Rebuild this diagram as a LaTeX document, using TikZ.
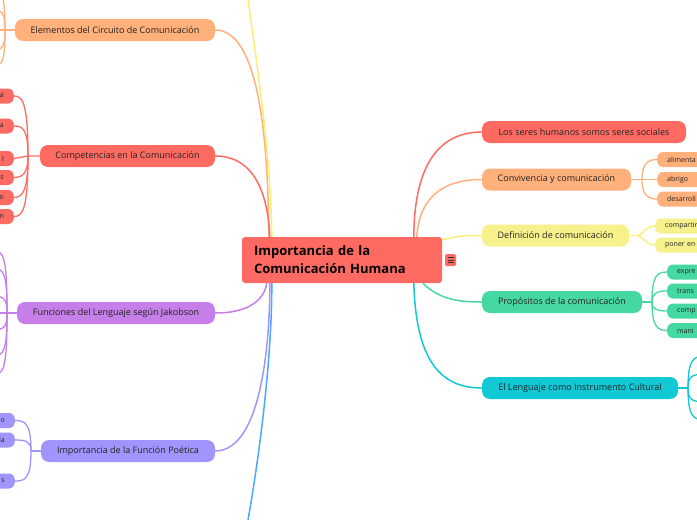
\documentclass[tikz,border=0pt]{standalone}
\usepackage{fontspec}
\setmainfont{Open Sans}
\usetikzlibrary{calc}
\definecolor{cred}{HTML}{FF6B63}
\definecolor{corange}{HTML}{FFB07B}
\definecolor{cyellow}{HTML}{F7F18C}
\definecolor{cyline}{HTML}{F9EF72}
\definecolor{cgreen}{HTML}{45D8A1}
\definecolor{ccyan}{HTML}{10C9D4}
\definecolor{cpurple}{HTML}{C67EE8}
\definecolor{clav}{HTML}{A095FC}
\definecolor{cblue}{HTML}{49A8FF}
\definecolor{txt}{HTML}{222222}
\tikzset{
  mainbox/.style={rounded corners=8pt, minimum height=22pt, inner sep=0pt,
    font=\fontsize{9}{10}\selectfont, text=txt},
  kidR/.style={rounded corners=6pt, minimum height=15pt, anchor=west, text width=60pt,
    align=left, inner xsep=10pt, inner ysep=0pt, font=\fontsize{7}{8}\selectfont, text=txt},
  kidL/.style={rounded corners=6pt, minimum height=15pt, anchor=east, text width=40pt,
    align=right, inner xsep=10pt, inner ysep=0pt, font=\fontsize{7}{8}\selectfont, text=txt},
  centralbox/.style={rounded corners=3pt, minimum width=200pt, minimum height=46pt,
    text width=176pt, inner xsep=12pt, inner ysep=0pt, align=left,
    font=\fontsize{13}{18}\selectfont\bfseries, text=black},
  link/.style={line width=1.3pt},
  biglink/.style={line width=1.5pt}
}
\begin{document}
\begin{tikzpicture}[x=1pt,y=-1pt]
\useasboundingbox (0,0) rectangle (697,520);
% central
\node[centralbox, fill=cred] (C) at (342,260) {Importancia de la\\Comunicación Humana};
\node[rounded corners=1.5pt, fill=cred, minimum width=11pt, minimum height=12pt, inner sep=0pt] (menu) at (450.5,260) {};
\foreach \dy in {-2.5,0,2.5} \draw[line width=0.8pt, black!80] ([xshift=-3pt,yshift=\dy pt]menu.center) -- ([xshift=3pt,yshift=\dy pt]menu.center);

% right main nodes
\node[mainbox, fill=cred, minimum width=204pt] (R1) at (584,132) {Los seres humanos somos seres sociales};
\node[mainbox, fill=corange, minimum width=149pt] (R2) at (556.5,179.5) {Convivencia y comunicación};
\node[mainbox, fill=cyellow, minimum width=147pt] (R3) at (555.5,235.5) {Definición de comunicación};
\node[mainbox, fill=cgreen, minimum width=160pt] (R4) at (562,302) {Propósitos de la comunicación};
\node[mainbox, fill=ccyan, minimum width=196pt] (R5) at (580,388) {El Lenguaje como Instrumento Cultural};

% left main nodes
\node[mainbox, fill=corange, minimum width=200pt] (L1) at (115,30) {Elementos del Circuito de Comunicación};
\node[mainbox, fill=cred, minimum width=175pt] (L2) at (127.5,156) {Competencias en la Comunicación};
\node[mainbox, fill=cpurple, minimum width=198pt] (L3) at (116,313) {Funciones del Lenguaje según Jakobson};
\node[mainbox, fill=clav, minimum width=174pt] (L4) at (128,451) {Importancia de la Función Poética};

% right children
\node[kidR, fill=corange] (a1) at (657,159.5) {alimenta};
\node[kidR, fill=corange] (a2) at (657,179.5) {abrigo};
\node[kidR, fill=corange] (a3) at (657,199) {desarroll};
\node[kidR, fill=cyellow] (b1) at (655,226) {compartir};
\node[kidR, fill=cyellow] (b2) at (655,245) {poner en};
\node[kidR, fill=cgreen] (c1) at (667,272) {expre};
\node[kidR, fill=cgreen] (c2) at (667,291) {trans};
\node[kidR, fill=cgreen] (c3) at (667,311) {comp};
\node[kidR, fill=cgreen] (c4) at (667,330.5) {mani};

% left children
\node[kidL, fill=cred] (d1) at (14,96) {a};
\node[kidL, fill=cred] (d2) at (14,126) {a};
\node[kidL, fill=cred] (d3) at (14,158.5) {l};
\node[kidL, fill=cred] (d4) at (14,177.5) {s};
\node[kidL, fill=cred] (d5) at (14,197.5) {o};
\node[kidL, fill=cred] (d6) at (14,216.5) {n};
\node[kidL, fill=clav] (e1) at (15,420.5) {o};
\node[kidL, fill=clav] (e2) at (15,440) {la};
\node[kidL, fill=clav] (e3) at (15,481) {s};

% junctions and free ends
\coordinate (jR2) at (642,179.5);
\coordinate (jR3) at (637,235.5);
\coordinate (jR4) at (652,302);
\coordinate (jR5) at (688,388);
\coordinate (jL1) at (5,30);
\coordinate (jL2) at (28,156);
\coordinate (jL3) at (7,313);
\coordinate (jL4) at (31,451);
\coordinate (topY) at (248,0);
\coordinate (botB) at (248,520);
\foreach \n/\y in {f1/356,f2/374,f3/402,f4/420} \coordinate (\n) at (705,\y);
\foreach \n/\y in {g1/-8,g2/10,g3/50,g4/66} \coordinate (\n) at (-8,\y);
\foreach \n/\y in {h1/250,h2/268,h3/296,h4/330,h5/356,h6/375} \coordinate (\n) at (-8,\y);

% central connectors (right)
\draw[biglink, cred] ([xshift=172pt]C.north west) .. controls (414,180) and (430,132) .. (R1.west);
\draw[biglink, corange] ([xshift=175pt]C.north west) .. controls (419,200) and (440,179.5) .. (R2.west);
\draw[biglink, cyline] ([yshift=-3pt]C.north east) .. controls (462,235.5) .. (R3.west);
\draw[biglink, cgreen] ([xshift=181pt]C.south west) .. controls (440,300) and (460,302) .. (R4.west);
\draw[biglink, ccyan] ([xshift=172pt]C.south west) .. controls (416,360) and (440,388) .. (R5.west);
% central connectors (left)
\draw[biglink, corange] (L1.east) .. controls (255,30) and (268,120) .. ([xshift=27pt]C.north west);
\draw[biglink, cred] (L2.east) .. controls (255,156) and (268,195) .. ([xshift=28pt]C.north west);
\draw[biglink, cyline] (topY) .. controls (258,70) and (271,160) .. ([xshift=30pt]C.north west);
\draw[biglink, cpurple] (L3.east) .. controls (255,313) and (265,295) .. ([xshift=25pt]C.south west);
\draw[biglink, clav] (L4.east) .. controls (262,451) and (270,340) .. ([xshift=28pt]C.south west);
\draw[biglink, cblue] (botB) .. controls (262,440) and (272,350) .. ([xshift=30pt]C.south west);

% right sub connectors
\draw[link, corange] (R2.east) -- (jR2) -- (a2.west);
\draw[link, corange] (jR2) .. controls +(0,-16) and +(-9,0) .. (a1.west);
\draw[link, corange] (jR2) .. controls +(0,16) and +(-9,0) .. (a3.west);
\draw[link, cyline] (R3.east) -- (jR3);
\draw[link, cyline] (jR3) .. controls +(6,0) and +(-10,0) .. (b1.west);
\draw[link, cyline] (jR3) .. controls +(6,0) and +(-10,0) .. (b2.west);
\draw[link, cgreen] (R4.east) -- (jR4);
\draw[link, cgreen] (jR4) .. controls +(0,-26) and +(-10,0) .. (c1.west);
\draw[link, cgreen] (jR4) .. controls +(0,-9) and +(-10,0) .. (c2.west);
\draw[link, cgreen] (jR4) .. controls +(0,7) and +(-10,0) .. (c3.west);
\draw[link, cgreen] (jR4) .. controls +(0,24) and +(-10,0) .. (c4.west);
\draw[link, ccyan] (R5.east) -- (jR5);
\draw[link, ccyan] (jR5) .. controls +(0,-28) and +(-12,0) .. (f1);
\draw[link, ccyan] (jR5) .. controls +(0,-12) and +(-12,0) .. (f2);
\draw[link, ccyan] (jR5) .. controls +(0,12) and +(-12,0) .. (f3);
\draw[link, ccyan] (jR5) .. controls +(0,28) and +(-12,0) .. (f4);

% left sub connectors
\draw[link, corange] (L1.west) -- (-2,30);
\foreach \g/\d in {g1/-36,g2/-18,g3/18,g4/34} \draw[link, corange] (jL1) .. controls +(0,\d) and +(10,0) .. (\g);
\draw[link, cred] (L2.west) -- (jL2) -- (d3.east);
\foreach \d/\dd in {d1/-55,d2/-28,d4/18,d5/36,d6/55} \draw[link, cred] (jL2) .. controls +(0,\dd) and +(8,0) .. (\d.east);
\draw[link, cpurple] (L3.west) -- (-2,313);
\foreach \h/\d in {h1/-56,h2/-40,h3/-14,h4/14,h5/38,h6/56} \draw[link, cpurple] (jL3) .. controls +(0,\d) and +(12,0) .. (\h);
\draw[link, clav] (L4.west) -- (jL4);
\foreach \e/\d in {e1/-28,e2/-10,e3/28} \draw[link, clav] (jL4) .. controls +(0,\d) and +(10,0) .. (\e.east);
\end{tikzpicture}
\end{document}
